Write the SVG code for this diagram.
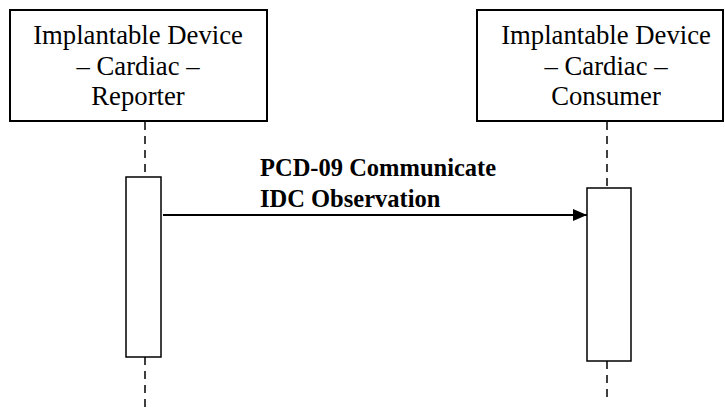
<svg xmlns="http://www.w3.org/2000/svg" width="725" height="410" viewBox="0 0 725 410">
<style>
.box{fill:#fff;stroke:#000;stroke-width:2}
.act{fill:#fff;stroke:#000;stroke-width:1.5}
.life{stroke:#000;stroke-width:1.5;stroke-dasharray:8 6;fill:none}
.t{font-size:26.7px;fill:#000;text-anchor:middle}
.lbl{font-size:24.5px;font-weight:bold;fill:#000}
</style>
<defs>
<marker id="ah" markerWidth="14" markerHeight="12" refX="14" refY="6" orient="auto" markerUnits="userSpaceOnUse">
<path d="M0,0 L14,6 L0,12 Z" fill="#000"/>
</marker>
</defs>
<g font-family="Liberation Serif, DejaVu Serif, serif">
<g id="connectors">
<line class="life" x1="145" y1="122" x2="145" y2="177"/>
<line class="life" x1="145" y1="357" x2="145" y2="410"/>
<line class="life" x1="607" y1="122" x2="607" y2="188"/>
<line class="life" x1="607" y1="361" x2="607" y2="400"/>
<line x1="163" y1="215" x2="587" y2="215" stroke="#000" stroke-width="2" marker-end="url(#ah)"/>
<text class="lbl" x="260" y="176">PCD-09 Communicate</text>
<text class="lbl" x="260" y="207">IDC Observation</text>
</g>
<g id="reporter">
<rect class="box" x="10" y="10" width="257" height="111"/>
<text class="t" x="138" y="44">Implantable Device</text>
<text class="t" x="138" y="75">– Cardiac –</text>
<text class="t" x="138" y="105">Reporter</text>
</g>
<g id="consumer">
<rect class="box" x="477" y="10" width="246" height="111"/>
<text class="t" x="606" y="44">Implantable Device</text>
<text class="t" x="606" y="75">– Cardiac –</text>
<text class="t" x="606" y="105">Consumer</text>
</g>
<g id="reporter-activation">
<rect class="act" x="126" y="177" width="35" height="180"/>
</g>
<g id="consumer-activation">
<rect class="act" x="587" y="188" width="44" height="173"/>
</g>
</g>
</svg>
